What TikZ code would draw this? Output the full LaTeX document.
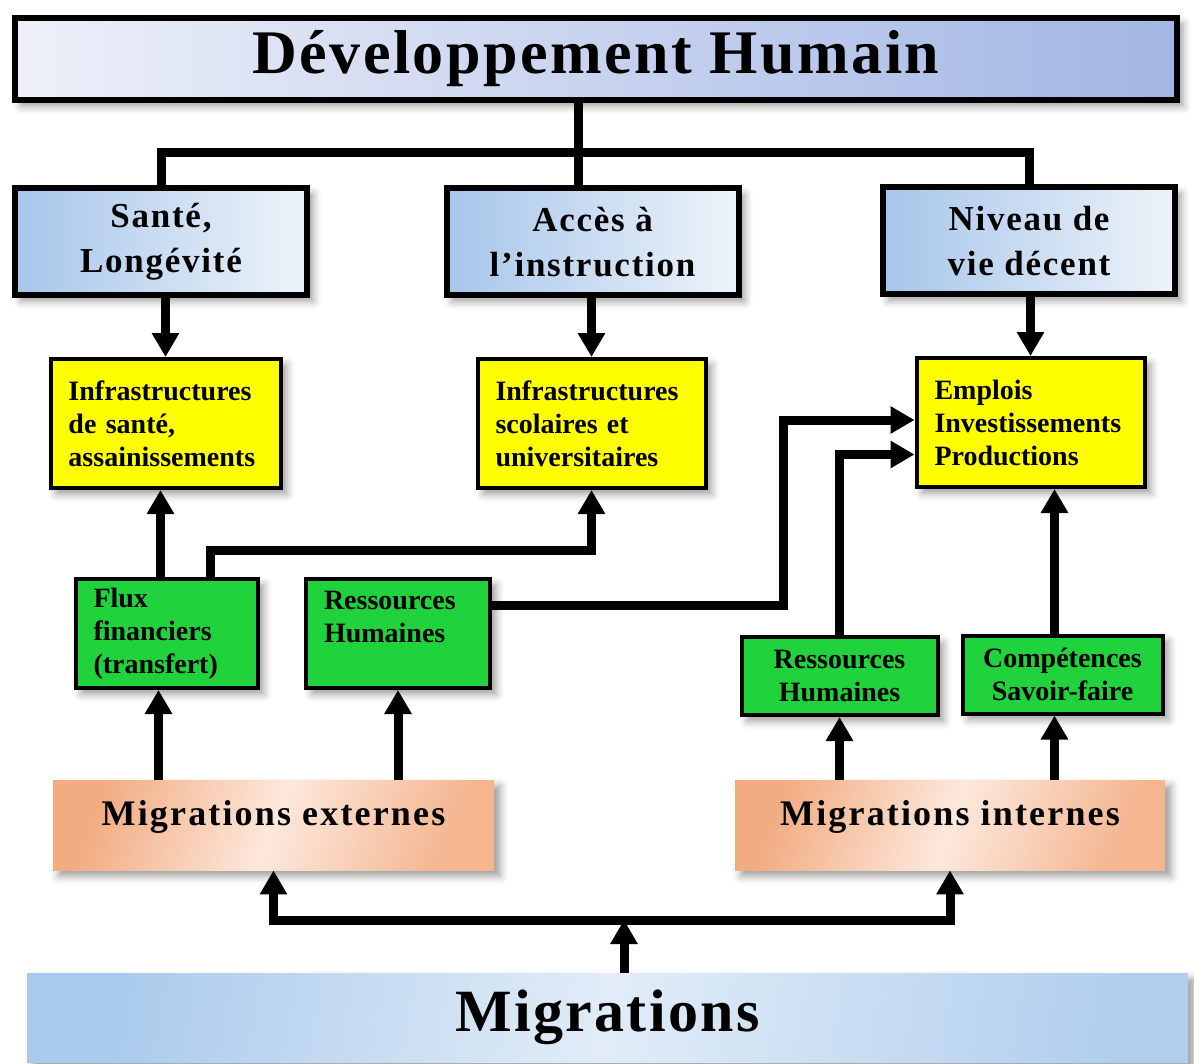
\documentclass[tikz,border=0pt]{standalone}
\usepackage{fontspec}
\setmainfont{Liberation Serif}
\newfontfamily\titlefont[LetterSpace=4]{Liberation Serif}
\newfontfamily\headfont[LetterSpace=5]{Liberation Serif}
\newfontfamily\migfont[LetterSpace=6]{Liberation Serif}
\usetikzlibrary{arrows.meta,shadows.blur}

\definecolor{titleL}{HTML}{EEF0F9}
\definecolor{titleR}{HTML}{A2B6E4}
\definecolor{headL}{HTML}{A6C6EA}
\definecolor{headR}{HTML}{EEF3FA}
\definecolor{infra}{HTML}{FFFF00}
\definecolor{ressource}{HTML}{20D23C}
\definecolor{migA}{HTML}{F2AC82}
\definecolor{migB}{HTML}{FDE8DC}
\definecolor{baseA}{HTML}{A9CAEC}
\definecolor{baseB}{HTML}{DCE9F6}

\begin{document}
\begin{tikzpicture}[x=0.5pt, y=-0.5pt,
  link/.style={line width=4.5pt},
  arrow/.style={line width=4.5pt, -{Triangle[length=12pt,width=13pt]}},
  shadowed/.style={blur shadow={shadow xshift=3pt, shadow yshift=-3pt, shadow blur radius=4pt, shadow opacity=40}},
  titlebox/.style={shadowed, draw, line width=3pt, left color=titleL, right color=titleR, minimum width=581pt, minimum height=41pt, font=\titlefont\bfseries\fontsize{31}{34}\selectfont},
  headbox/.style={shadowed, draw, line width=3pt, left color=headL, right color=headR, minimum width=146pt, minimum height=53.5pt, align=center, font=\headfont\bfseries\fontsize{17.5}{22.5}\selectfont},
  infrabox/.style={shadowed, draw, line width=2pt, fill=infra, inner xsep=9pt, align=left, minimum height=64.5pt, font=\bfseries\fontsize{14}{16.5}\selectfont},
  resbox/.style={shadowed, draw, line width=2pt, fill=ressource, inner xsep=9pt, align=left, font=\bfseries\fontsize{14}{16.5}\selectfont},
  migbox/.style={shadowed, left color=migA, right color=migA!85!migB, middle color=migB, shading angle=70, minimum height=45pt, text height=12pt, text depth=12pt, font=\migfont\bfseries\fontsize{18}{22}\selectfont},
  basebox/.style={shadowed, left color=baseA, right color=baseA!85!baseB, middle color=baseB!85!white, shading angle=80, minimum width=580.5pt, minimum height=44.5pt, font=\titlefont\bfseries\fontsize{30}{34}\selectfont}
]
\useasboundingbox (0,0) rectangle (1194,1064);

%%%%%%%%%%%%%%%%%%%%%%%%%%%%%%%%%%%%%%%%%%%%%%%%%%%%%%%%%%%%%%%%%%%%%%%%%%%%%%%%%%%
\node[titlebox] (dh) at (596,59) {Développement Humain};

\node[headbox] (sante) at (161,241.5) {Santé,\\Longévité};
\node[headbox] (acces) at (592.5,242) {Accès à\\l’instruction};
\node[headbox] (niveau) at (1029,241) {Niveau de\\vie décent};

\node[infrabox, text width=97pt] (isante) at (165.5,423.5) {Infrastructures\\de santé,\\assainissements};
\node[infrabox, text width=96pt] (iscol) at (591.5,423.5) {Infrastructures\\scolaires et\\universitaires};
\node[infrabox, text width=96pt] (emplois) at (1030.5,422.5) {Emplois\\Investissements\\Productions};

\node[resbox, text width=73pt, minimum height=54.5pt] (flux) at (166.5,633.5) {Flux\\financiers\\(transfert)};
\node[resbox, text width=74pt, minimum height=54.5pt] (rhA) at (398,633.5) {Ressources\\Humaines\\~};
\node[resbox, text width=80pt, minimum height=39pt, align=center] (rhB) at (839.5,676) {Ressources\\Humaines};
\node[resbox, text width=82pt, minimum height=39pt, align=center] (comp) at (1062.5,674.5) {Compétences\\Savoir-faire};

\node[migbox, minimum width=220.5pt] (mext) at (273.5,825) {Migrations externes};
\node[migbox, minimum width=215pt] (mint) at (950,825) {Migrations internes};

\node[basebox] (mig) at (607.5,1017.5) {Migrations};

%%%%%%%%%%%%%%%%%%%%%%%%%%%%%%%%%%%%%%%%%%%%%%%%%%%%%%%%%%%%%%%%%%%%%%%%%%%%%%%%%%%
\coordinate (jt) at (578,153);
\draw[link] (dh.south -| jt) -- (acces.north -| jt);
\draw[link] (sante.north) |- (jt) -| (niveau.north);

\draw[arrow] (isante.north |- sante.south) -- (isante.north);
\draw[arrow] (iscol.north |- acces.south) -- (iscol.north);
\draw[arrow] (emplois.north |- niveau.south) -- (emplois.north);

%%%%%%%%%%%%%%%%%%%%%%%%%%%%%%%%%%%%%%%%%%%%%%%%%%%%%%%%%%%%%%%%%%%%%%%%%%%%%%%%%%%
\coordinate (k1) at (210,550);
\coordinate (k2) at (783,420);
\draw[arrow] ([xshift=-3pt]flux.north) -- ([xshift=-3pt]flux.north |- isante.south);
\draw[arrow] (flux.north -| k1) -- (k1) -| (iscol.south);
\draw[arrow] ([yshift=14pt]rhA.east) -| (k2) -- (k2 -| emplois.west);
\draw[arrow] (rhB.north) |- ([yshift=-16pt]emplois.west);
\draw[arrow] ([xshift=-4pt]comp.north) -- ([xshift=-4pt]comp.north |- emplois.south);

%%%%%%%%%%%%%%%%%%%%%%%%%%%%%%%%%%%%%%%%%%%%%%%%%%%%%%%%%%%%%%%%%%%%%%%%%%%%%%%%%%%
\draw[arrow] ([xshift=-4pt]flux.south |- mext.north) -- ([xshift=-4pt]flux.south);
\draw[arrow] (rhA.south |- mext.north) -- (rhA.south);
\draw[arrow] (rhB.south |- mint.north) -- (rhB.south);
\draw[arrow] ([xshift=-4pt]comp.south |- mint.north) -- ([xshift=-4pt]comp.south);

\coordinate (fork) at (624,920);
\draw[arrow] (mig.north -| fork) -- (fork);
\draw[arrow] (fork) -| (mext.south);
\draw[arrow] (fork) -| (mint.south);

\end{tikzpicture}
\end{document}
